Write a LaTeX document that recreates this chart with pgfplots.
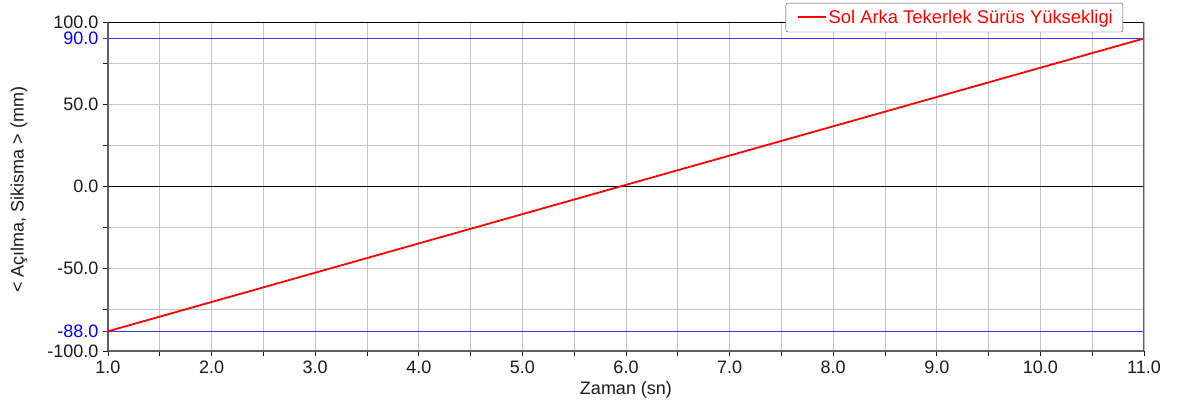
\documentclass[border=0pt]{standalone}
\usepackage{pgfplots}
\pgfplotsset{compat=1.18}
\usepackage{fontspec}
\setmainfont{Liberation Sans}
\definecolor{gridc}{HTML}{C4C4C4}
\definecolor{axc}{HTML}{606060}
\definecolor{txt}{HTML}{1A1A1A}
\definecolor{lim}{HTML}{3636FF}
\begin{document}
\begin{tikzpicture}
\begin{axis}[
  scale only axis, width=1036pt, height=329pt,
  xmin=1, xmax=11, ymin=-100, ymax=100,
  axis lines=left, axis line style={-, axc, line width=1.4pt},
  tick align=outside,
  major tick length=5pt, minor tick length=5pt,
  every tick/.style={txt, line width=0.8pt},
  xtick={1,2,3,4,5,6,7,8,9,10,11},
  xticklabels={1.0,2.0,3.0,4.0,5.0,6.0,7.0,8.0,9.0,10.0,11.0},
  ytick={-100,-50,0,50,100},
  yticklabels={-100.0,-50.0,0.0,50.0,100.0},
  minor xtick={1.5,2.5,3.5,4.5,5.5,6.5,7.5,8.5,9.5,10.5},
  minor ytick={-75,-25,25,75},
  grid=both,
  major grid style={gridc, line width=0.9pt},
  minor grid style={gridc, line width=0.9pt},
  extra y ticks={-88,90},
  extra y tick labels={-88.0,90.0},
  extra y tick style={grid=none,
     tick style={lim, line width=1pt}, tick label style={text=blue}},
  tick label style={font=\fontsize{18}{21}\selectfont, text=txt},
  xticklabel style={yshift=-1pt},
  yticklabel style={xshift=-1pt},
  label style={font=\fontsize{18}{21}\selectfont, text=txt},
  xlabel={Zaman (sn)},
  ylabel={< Açılma, Sikisma > (mm)},
  xlabel style={at={(axis description cs:0.5,-0.1185)}, anchor=center},
  ylabel style={at={(axis description cs:-0.0859,0.49)}, anchor=center},
  legend style={at={(axis description cs:0.9798,1.058)}, anchor=north east,
     draw=black!70, rounded corners=2pt, fill=white,
     font=\fontsize{18.4}{21}\selectfont, text=red,
     inner xsep=8pt, inner ysep=5pt},
  legend image code/.code={\path (-3pt,0pt); \draw[#1, line width=1.6pt] (0pt,0.5pt) -- (28pt,0.5pt);},
  legend cell align=left,
]
\addplot[black, line width=0.8pt, forget plot] coordinates {(1,0) (11,0)};
\addplot[lim, line width=1pt, forget plot] coordinates {(1,90) (11,90)};
\addplot[lim, line width=1pt, forget plot] coordinates {(1,-88) (11,-88)};
\addplot[red, line width=1.8pt] coordinates {(1,-88) (3,-52.4) (6,1) (8,36.6) (11,90)};
\addlegendentry{Sol Arka Tekerlek Sürüs Yüksekligi}
\draw[black, line width=0.8pt] (rel axis cs:0,1) -- (rel axis cs:1,1);
\draw[axc, line width=1.4pt] (rel axis cs:1,0) -- (rel axis cs:1,1);
\coordinate (bl) at (rel axis cs:0,0);
\coordinate (tr) at (rel axis cs:1,1);
\end{axis}
\pgfresetboundingbox
\path ([shift={(-108pt,-59pt)}]bl) rectangle ([shift={(35pt,22pt)}]tr);
\end{tikzpicture}
\end{document}
